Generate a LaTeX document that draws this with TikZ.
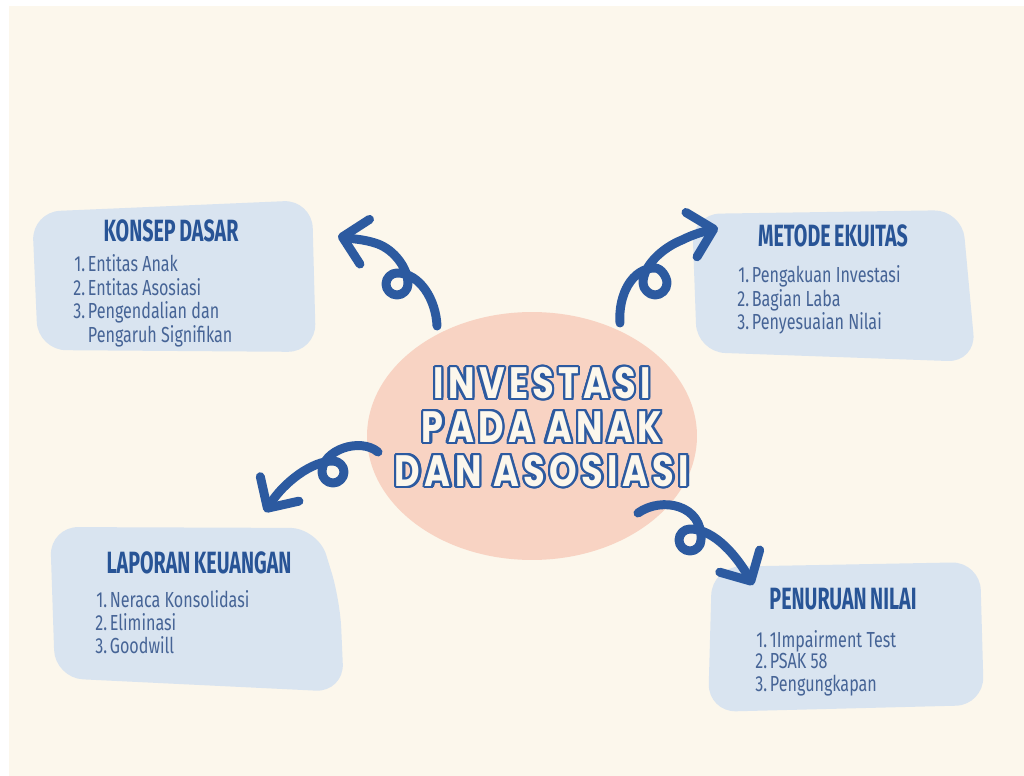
\documentclass[tikz,border=0pt]{standalone}
\usepackage{fontspec}
\newfontfamily\headfont[FakeStretch=0.64]{Fira Sans}
\newfontfamily\listfont[FakeStretch=0.74]{Fira Sans}
\newfontfamily\centerfont[FakeStretch=0.8,LetterSpace=10]{Poppins}
\usetikzlibrary{calc,positioning,shapes.geometric,arrows.meta}
\definecolor{cream}{RGB}{252,247,236}
\definecolor{boxblue}{RGB}{217,228,240}
\definecolor{peach}{RGB}{248,211,195}
\definecolor{arrowblue}{RGB}{44,90,160}
\definecolor{titleblue}{RGB}{40,84,150}
\definecolor{itemblue}{RGB}{70,100,150}
\newcommand\investtitle{INVESTASI\\PADA ANAK\\DAN ASOSIASI}
\newcommand\nr[1]{#1\kern1.5pt}

\begin{document}
\begin{tikzpicture}[
    x=0.02cm, y=-0.02cm,
    blob/.style={fill=boxblue,rounded corners=16pt},
    curl/.style={line width=5.1pt,draw=arrowblue,line cap=round,line join=round,
      -{Straight Barb[round,length=13pt,width=26pt]}},
    head/.style={font=\headfont\bfseries\fontsize{17.5}{20}\selectfont,
      text=titleblue,inner sep=0,anchor=base},
    items/.style={font=\listfont\fontsize{12.4}{12.3}\selectfont,
      text=itemblue,inner sep=0,anchor=base west},
    bigtext/.style={font=\centerfont\bfseries\fontsize{25}{25}\selectfont,
      align=center,inner sep=0}
  ]
  \useasboundingbox (0,0) rectangle (1024,776);
  % paper
  \fill [white] (0,0) rectangle (1024,776);
  \fill [cream] (9,6) rectangle (1024,776);
  % boxes
  \fill [blob]
    (32,212) -- (312,200) -- (316,352) -- (38,350) -- cycle
  ;
  \fill [blob]
    (692,214) -- (962,210) -- (976,362) -- (697,352) -- cycle
  ;
  \fill [blob]
    (50,527) -- (318,528) -- (340,600) -- (344,692) -- (55,678) -- cycle
  ;
  \fill [blob]
    (712,567) -- (980,562) -- (984,705) -- (708,712) -- cycle
  ;
  % centre
  \node [ellipse,fill=peach,minimum width=6.6cm,minimum height=4.96cm]
    (invest) at (532,436) {}
  ;
  \coordinate (invest mid) at (542,427);
  \foreach \a in {0,20,...,340}
    \node [bigtext,text=arrowblue] (rim\a)
      at ($(invest mid)+(\a:2.4)$) {\investtitle}
  ;
  \node [bigtext,text=cream] (invest title) at (invest mid) {\investtitle};
  % curls
  \coordinate (konsep from) at (437,326);
  \coordinate (konsep to) at (338,236);
  \draw [curl]
    (konsep from)
    .. controls (436,300) and (420,273) .. (397,273)
    .. controls (391,273) and (386,278) .. (386,284)
    .. controls (386,290) and (391,295) .. (397,295)
    .. controls (403,295) and (408,290) .. (408,284)
    .. controls (408,268) and (394,250) .. (378,244)
    .. controls (364,239) and (352,239) .. (konsep to)
  ;
  \coordinate (metode from) at (620,323);
  \coordinate (metode to) at (718,228);
  \draw [curl]
    (metode from)
    .. controls (618,295) and (632,268) .. (655,268)
    .. controls (661,268) and (667,277) .. (667,283)
    .. controls (667,290) and (661,295) .. (655,295)
    .. controls (649,295) and (643,289) .. (643,283)
    .. controls (643,266) and (662,248) .. (682,240)
    .. controls (690,236) and (698,233) .. (metode to)
  ;
  \coordinate (laporan from) at (378,452);
  \coordinate (laporan to) at (265,512);
  \draw [curl]
    (laporan from)
    .. controls (360,437) and (322,450) .. (322,472)
    .. controls (322,478) and (327,483) .. (333,483)
    .. controls (339,483) and (344,478) .. (344,472)
    .. controls (344,466) and (339,461) .. (333,461)
    .. controls (312,461) and (284,482) .. (laporan to)
  ;
  \coordinate (penurunan from) at (638,513);
  \coordinate (penurunan to) at (753,585);
  \draw [curl]
    (penurunan from)
    .. controls (662,496) and (703,505) .. (701,540)
    .. controls (701,546) and (696,551) .. (690,551)
    .. controls (684,551) and (679,546) .. (679,540)
    .. controls (679,534) and (684,529) .. (690,529)
    .. controls (715,529) and (738,558) .. (penurunan to)
  ;
  % texts
  \node [head] (konsep head) at (171,242) {KONSEP\kern2pt DASAR};
  \node [items] (konsep list) at (73,272)
    {\begin{tabular}[t]{@{}r@{}l@{}}
      \nr{1.}&Entitas Anak\\\nr{2.}&Entitas Asosiasi\\\nr{3.}&Pengendalian dan\\&Pengaruh Signifikan
    \end{tabular}};
  \node [head] (metode head) at (833,247) {METODE\kern2pt EKUITAS};
  \node [items] (metode list) at (737,283)
    {\begin{tabular}[t]{@{}r@{}l@{}}
      \nr{1.}&Pengakuan Investasi\\\nr{2.}&Bagian Laba\\\nr{3.}&Penyesuaian Nilai
    \end{tabular}};
  \node [head] (laporan head) at (199,573) {LAPORAN\kern2pt KEUANGAN};
  \node [items] (laporan list) at (95,607)
    {\begin{tabular}[t]{@{}r@{}l@{}}
      \nr{1.}&Neraca Konsolidasi\\\nr{2.}&Eliminasi\\\nr{3.}&Goodwill
    \end{tabular}};
  \node [head] (penurunan head) at (843,609) {PENURUAN\kern2pt NILAI};
  \node [items] (penurunan list) at (755,647)
    {\begin{tabular}[t]{@{}r@{}l@{}}
      \nr{1.}&1Impairment Test\\\nr{2.}&PSAK 58\\\nr{3.}&Pengungkapan
    \end{tabular}};
\end{tikzpicture}
\end{document}
